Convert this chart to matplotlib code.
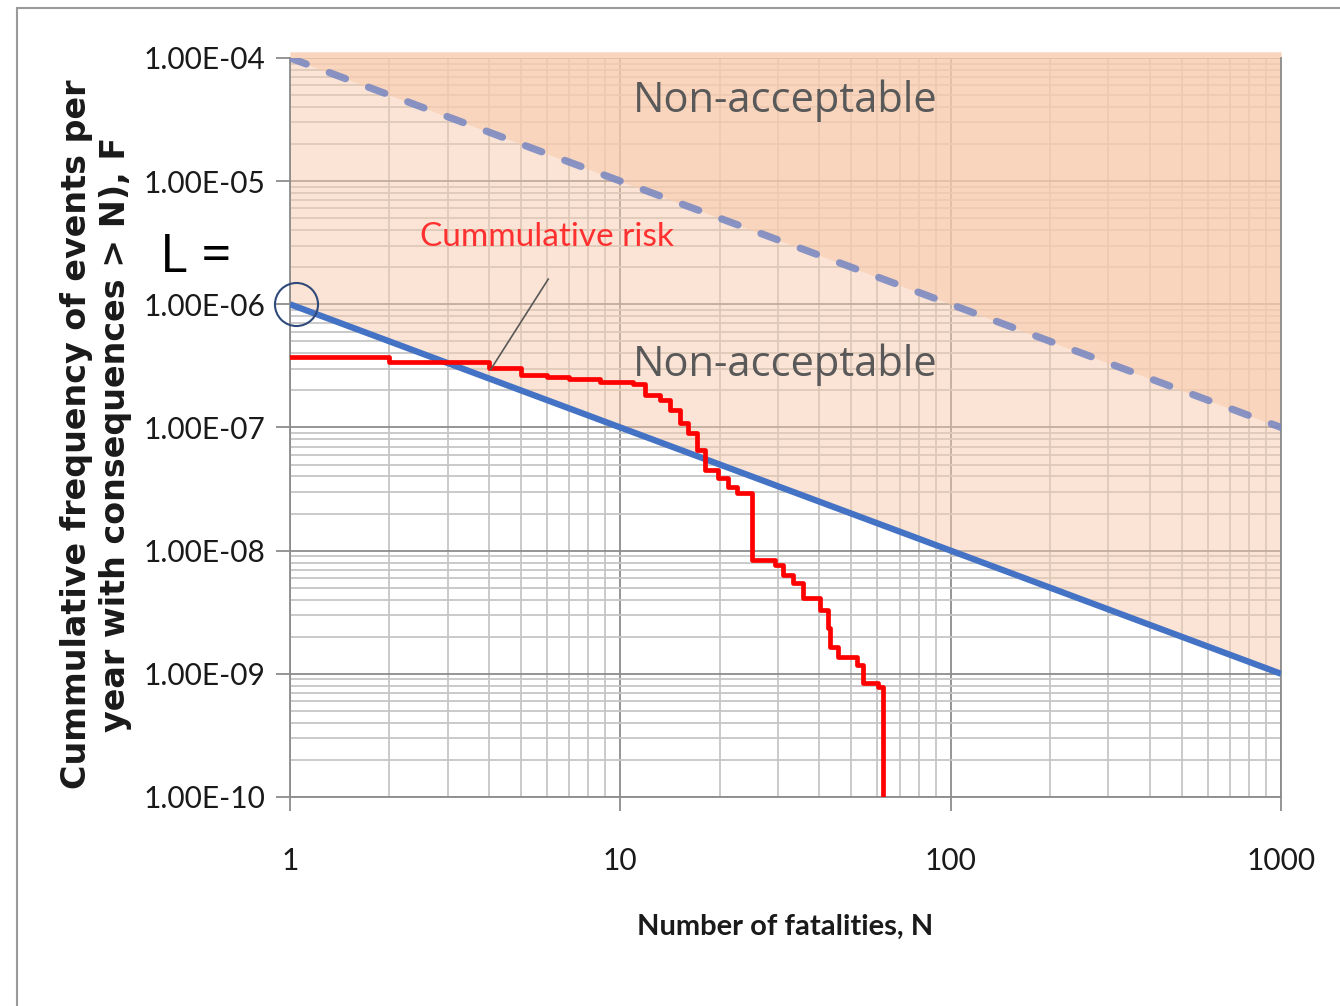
import numpy as np
import matplotlib
matplotlib.use("Agg")
import matplotlib.pyplot as plt
from matplotlib.patches import Rectangle
from matplotlib.ticker import FuncFormatter, LogLocator, FixedLocator

# F-N curve data
n_steps = [1.0, 2.0, 4.0, 5.0, 6.0, 7.0, 8.7, 10.9, 11.9, 13.2, 14.1, 15.2, 16.0,
           17.1, 18.0, 19.8, 21.2, 22.6, 25.0, 29.4, 31.1, 33.3, 35.7, 40.2,
           42.5, 43.2, 45.6, 52.1, 54.3, 60.3, 62.4, 62.4]
f_steps = [3.74e-7, 3.40e-7, 3.05e-7, 2.67e-7, 2.55e-7, 2.48e-7, 2.36e-7, 2.26e-7,
           1.84e-7, 1.68e-7, 1.39e-7, 1.09e-7, 9.0e-8, 6.58e-8, 4.53e-8, 3.9e-8,
           3.3e-8, 2.94e-8, 8.4e-9, 7.67e-9, 6.37e-9, 5.48e-9, 4.14e-9, 3.31e-9,
           2.36e-9, 1.66e-9, 1.37e-9, 1.18e-9, 8.45e-10, 7.84e-10, 6.15e-10, 1.0e-10]

# criterion lines F = C / N
n_line = [1, 1000]
lower_c = 1e-6
upper_c = 1e-4

x_ticks = [1, 10, 100, 1000]
x_ticklabels = ["1", "10", "100", "1000"]
y_ticks = [1e-10, 1e-9, 1e-8, 1e-7, 1e-6, 1e-5, 1e-4]

narrow = "Lato"

fig = plt.figure(figsize=(13.4, 10.06), dpi=100)
ax = fig.add_axes([0.2164, 0.2078, 0.7396, 0.7346])

nl = np.array(n_line, dtype=float)
ax.set_xscale("log")
ax.set_yscale("log")
ax.set_xlim(1, 1000)
ax.set_ylim(1e-10, 1e-4)

# shading of the non-acceptable regions
fill_col = "#f8cbad"
ax.fill_between(nl, lower_c / nl, 1.12e-4, color=fill_col, alpha=0.5, lw=0,
                zorder=1, clip_on=False)
ax.fill_between(nl, upper_c / nl, 1.12e-4, color=fill_col, alpha=0.6, lw=0,
                zorder=1, clip_on=False)

# grid
ax.set_axisbelow(True)
ax.xaxis.set_minor_locator(LogLocator(base=10, subs=np.arange(2, 10)))
ax.yaxis.set_minor_locator(LogLocator(base=10, subs=np.arange(2, 10), numticks=20))
ax.grid(True, which="major", color="#8c8c8c", lw=1.3)
ax.grid(True, which="minor", color="#c6c6c6", lw=1.3)

ax.plot(nl, lower_c / nl, color="#4472c4", lw=4.5, zorder=4, solid_capstyle="butt")
ax.plot(nl, upper_c / nl, color="#7585c2", lw=5.2, zorder=4, alpha=0.85,
        ls=(0, (2.4, 3.4)), dash_capstyle="round")
ax.plot(n_steps, f_steps, drawstyle="steps-post", color="#ff0000", lw=3.4, zorder=5)

# ticks and labels
ax.xaxis.set_major_locator(FixedLocator(x_ticks))
ax.set_xticklabels(x_ticklabels)
ax.yaxis.set_major_locator(FixedLocator(y_ticks))
ax.yaxis.set_major_formatter(FuncFormatter(lambda v, p: f"{v:.2E}"))
ax.tick_params(which="minor", length=0)
ax.tick_params(which="major", length=10, width=1.3, color="#8c8c8c",
               labelsize=21.5, labelcolor="#1a1a1a")
ax.tick_params(axis="y", pad=8)
ax.tick_params(axis="x", pad=26)
for lab in ax.get_xticklabels() + ax.get_yticklabels():
    lab.set_family(narrow)

ax.spines["top"].set_visible(False)
for s in ["left", "bottom", "right"]:
    ax.spines[s].set_color("#8c8c8c")
    ax.spines[s].set_linewidth(1.3)

ax.set_xlabel("Number of fatalities, N", family=narrow, fontsize=21,
              fontweight="bold", color="#1a1a1a", labelpad=28)

fig.text(77 / 1340, 1 - 434 / 1006, "Cummulative frequency of events per",
         rotation=90, family="DejaVu Sans", fontsize=24, fontweight="bold",
         color="#1a1a1a", ha="center", va="center")
fig.text(115 / 1340, 1 - 434 / 1006, "year with consequences > N), F",
         rotation=90, family="DejaVu Sans", fontsize=24, fontweight="bold",
         color="#1a1a1a", ha="center", va="center")

ax.text(10.9, 4.5e-5, "Non-acceptable", family="Open Sans", fontsize=30,
        color="#595959", va="center", ha="left", zorder=6)
ax.text(10.9, 3.25e-7, "Non-acceptable", family="Open Sans", fontsize=30,
        color="#595959", va="center", ha="left", zorder=6)

ax.text(6.0, 3.5e-6, "Cummulative risk", family=narrow, fontsize=24,
        color="#ff3030", va="center", ha="center", zorder=6)
ax.plot([6.05, 4.05], [1.6e-6, 2.95e-7], color="#595959", lw=1.2, zorder=6)

ax.plot([1.04], [1.0e-6], marker="o", markersize=31, markerfacecolor="none",
        markeredgecolor="#2f4a7a", markeredgewidth=1.5, clip_on=False, zorder=7)

fig.text(160 / 1340, 1 - 258 / 1006, "L =", fontsize=38, color="black",
         va="center", ha="left", family="Open Sans")

fig.patches.append(Rectangle((17 / 1340, -0.1), 1.2, 1 - 8 / 1006 + 0.1,
                             transform=fig.transFigure, fill=False,
                             edgecolor="#9a9a9a", lw=1.5))

fig.savefig("out.png", dpi=100)
